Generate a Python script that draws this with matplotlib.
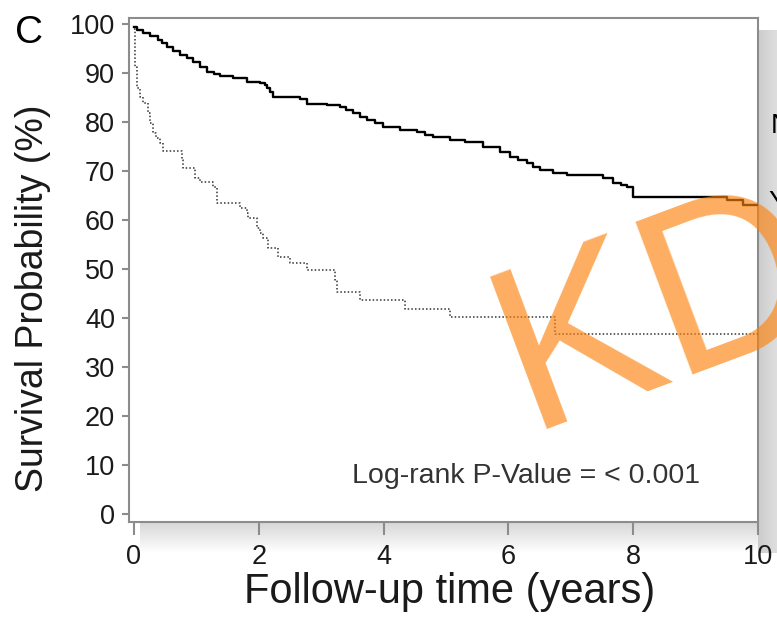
import numpy as np
import matplotlib
matplotlib.use('Agg')
import matplotlib.pyplot as plt

plt.rcParams['font.family'] = ['Liberation Sans', 'DejaVu Sans']

# ---------------- data ----------------
solid_t = [0, 0.05, 0.14, 0.25, 0.38, 0.45, 0.53, 0.63, 0.74, 0.85, 0.95, 1.05,
           1.17, 1.28, 1.38, 1.59, 1.81, 2.02, 2.10, 2.13, 2.18, 2.23, 2.66, 2.77,
           3.09, 3.30, 3.40, 3.51, 3.62, 3.73, 3.86, 3.99, 4.26, 4.54, 4.66, 4.79,
           5.06, 5.30, 5.60, 5.87, 6.03, 6.15, 6.30, 6.40, 6.51, 6.71, 6.94, 7.52,
           7.68, 7.80, 7.90, 8.00, 9.50, 9.76, 10.0]
solid_s = [99.3, 98.8, 98.2, 97.5, 96.7, 96.0, 95.3, 94.5, 93.7, 93.0, 92.2, 91.2,
           90.2, 89.7, 89.4, 89.0, 88.2, 88.0, 87.5, 86.9, 86.0, 85.1, 84.7, 83.7,
           83.5, 83.1, 82.5, 81.8, 81.1, 80.4, 79.7, 79.0, 78.4, 78.0, 77.4, 76.9,
           76.3, 75.8, 74.9, 73.9, 72.9, 72.3, 71.6, 70.9, 70.2, 69.6, 69.2, 68.6,
           67.6, 67.2, 66.7, 64.7, 64.1, 63.1, 63.1]

dot_t = [0, 0.01, 0.02, 0.05, 0.10, 0.14, 0.22, 0.26, 0.30, 0.36, 0.42, 0.46,
         0.77, 0.79, 0.98, 1.06, 1.27, 1.33, 1.70, 1.81, 1.83, 1.97, 2.02, 2.07,
         2.15, 2.31, 2.50, 2.77, 3.22, 3.25, 3.62, 4.34, 5.06, 6.75, 10.0]
dot_s = [99.0, 96.0, 91.2, 86.9, 85.1, 83.9, 81.8, 79.8, 77.8, 76.8, 75.7, 74.0,
         72.2, 70.6, 68.6, 67.8, 66.7, 63.5, 62.4, 61.4, 60.4, 58.4, 57.3, 56.3,
         54.3, 52.4, 51.2, 49.8, 47.8, 45.3, 43.7, 41.8, 40.2, 36.7, 36.7]

x_ticks = [0, 2, 4, 6, 8, 10]
y_ticks = [0, 10, 20, 30, 40, 50, 60, 70, 80, 90, 100]
panel_label = 'C'
x_label = 'Follow-up time (years)'
y_label = 'Survival Probability (%)'
annotation = 'Log-rank P-Value = < 0.001'
watermark = 'KD'
legend_fragments = ['N', 'Y']

# ---------------- figure ----------------
W, H = 777, 621
fig = plt.figure(figsize=(W / 100, H / 100), dpi=100)

# background axes in pixel coordinates for the drop shadow
bg = fig.add_axes([0, 0, 1, 1], zorder=-1)
bg.set_xlim(0, W)
bg.set_ylim(H, 0)
bg.axis('off')
gv = np.linspace(0.84, 1.0, 64).reshape(-1, 1)
bg.imshow(np.tile(gv, (1, 8)), extent=[140, W, 553, 522], cmap='gray',
          vmin=0, vmax=1, aspect='auto', interpolation='bilinear')
gh = np.linspace(0.80, 0.87, 32).reshape(1, -1)
bg.imshow(np.tile(gh, (8, 1)), extent=[758, W, 553, 30], cmap='gray',
          vmin=0, vmax=1, aspect='auto', interpolation='bilinear')

# main axes
ax = fig.add_axes([129 / W, 1 - 522 / H, (758 - 129) / W, (522 - 18) / H])
ax.set_xlim(-0.08, 10.0)
ax.set_ylim(-1.63, 101.2)

ax.step(solid_t, solid_s, where='post', color='black', lw=1.7, zorder=3)
ax.step(dot_t, dot_s, where='post', color='#333333', lw=1.1,
        linestyle=(0, (1, 1.4)), zorder=3)

ax.set_xticks(x_ticks)
ax.set_yticks(y_ticks)
ax.tick_params(axis='both', direction='out', color='#8c8c8c', width=1.5,
               labelsize=19.5, labelcolor='#1a1a1a')
ax.tick_params(axis='x', length=9.5, pad=6)
ax.tick_params(axis='y', length=5, pad=5)
for s in ax.spines.values():
    s.set_color('#8c8c8c')
    s.set_linewidth(1.5)

# texts
fig.text(33 / W, 1 - 298 / H, y_label, rotation=90, ha='center', va='center',
         fontsize=27, color='#1a1a1a')
fig.text(450 / W, 1 - 603 / H, x_label, ha='center', va='baseline',
         fontsize=30, color='#1a1a1a')
fig.text(352 / W, 1 - 483 / H, annotation, ha='left', va='baseline',
         fontsize=20.5, color='#333333')
fig.text(15 / W, 1 - 43 / H, panel_label, ha='left', va='baseline',
         fontsize=28, color='black')
fig.text(771 / W, 1 - 133 / H, legend_fragments[0], ha='left', va='baseline',
         fontsize=20, color='black')
fig.text(768 / W, 1 - 210 / H, legend_fragments[1], ha='left', va='baseline',
         fontsize=20, color='black')

# translucent watermark on top of everything
fig.text(528 / W, 1 - 429 / H, watermark, rotation=20.5, rotation_mode='anchor',
         ha='left', va='baseline', fontsize=169, color='#FC820C', alpha=0.65,
         zorder=10)

fig.savefig('out.png', dpi=100)
